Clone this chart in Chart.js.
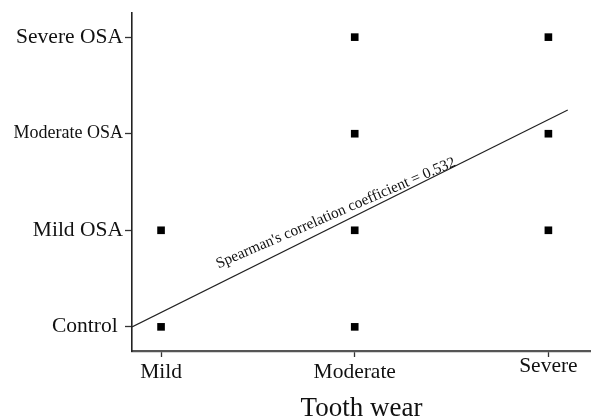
<!DOCTYPE html>
<html>
<head>
<meta charset="utf-8">
<script src="https://cdn.jsdelivr.net/npm/chart.js@4"></script>
<style>
  html, body { margin: 0; padding: 0; background: #fff; }
  #wrap { width: 591px; height: 418px; }
</style>
</head>
<body>
<div id="wrap"><canvas id="c" width="591" height="418"></canvas></div>
<script>
// ---- data ----
const xCategories = ['Mild', 'Moderate', 'Severe'];
const yCategories = ['Control', 'Mild OSA', 'Moderate OSA', 'Severe OSA'];
const pointX = ['Mild', 'Mild', 'Moderate', 'Moderate', 'Moderate', 'Moderate', 'Severe', 'Severe', 'Severe'];
const pointY = ['Control', 'Mild OSA', 'Control', 'Mild OSA', 'Moderate OSA', 'Severe OSA', 'Mild OSA', 'Moderate OSA', 'Severe OSA'];
const fitLineX = [-0.15, 2.10];
const fitLineY = [0, 2.245];
const annotationText = "Spearman's correlation coefficient = 0.532";
const annotationX = 0.296;
const annotationY = 0.605;
const xTitle = 'Tooth wear';

const FONT = '"Liberation Serif", "Times New Roman", serif';

const points = pointX.map((c, i) => ({ x: xCategories.indexOf(c), y: yCategories.indexOf(pointY[i]) }));
const linePts = fitLineX.map((v, i) => ({ x: v, y: fitLineY[i] }));

const annotationPlugin = {
  id: 'annot',
  afterDatasetsDraw(chart) {
    const { ctx, scales } = chart;
    const px = scales.x.getPixelForValue(annotationX);
    const py = scales.y.getPixelForValue(annotationY);
    ctx.save();
    ctx.translate(px, py);
    ctx.rotate(-23.4 * Math.PI / 180);
    ctx.font = '15.3px ' + FONT;
    ctx.fillStyle = '#111';
    ctx.textAlign = 'left';
    ctx.textBaseline = 'alphabetic';
    ctx.fillText(annotationText, 0, 0);
    ctx.restore();
  }
};

new Chart(document.getElementById('c'), {
  type: 'scatter',
  data: {
    datasets: [
      {
        data: points,
        pointStyle: 'rect',
        pointRadius: 5.4,
        pointBorderWidth: 0,
        backgroundColor: '#000',
        borderColor: '#000'
      },
      {
        type: 'line',
        data: linePts,
        borderColor: '#222',
        borderWidth: 1.2,
        pointRadius: 0,
        fill: false,
        showLine: true
      }
    ]
  },
  options: {
    responsive: false,
    animation: false,
    events: [],
    layout: { autoPadding: false, padding: { top: 13, right: 0, left: 0, bottom: 0 } },
    plugins: { legend: { display: false }, tooltip: { enabled: false } },
    scales: {
      x: {
        type: 'linear',
        min: -0.15,
        max: 2.22,
        afterFit(s) { s.height = 67; s.paddingLeft = 0; s.paddingRight = 0; },
        afterBuildTicks(s) { s.ticks = xCategories.map((_, i) => ({ value: i })); },
        grid: { drawOnChartArea: false, drawTicks: true, tickLength: 6, tickColor: '#333', tickWidth: 1.3 },
        border: { display: true, color: '#555', width: 2.2 },
        ticks: {
          autoSkip: false,
          maxRotation: 0,
          padding: 2,
          color: '#111',
          font: (ctx) => ({ family: FONT, size: 21.5, lineHeight: ctx.index === 2 ? 0.72 : 1.2 }),
          callback: (v) => xCategories[v]
        },
        title: {
          display: true,
          text: xTitle,
          color: '#111',
          padding: 0,
          font: { family: FONT, size: 27, lineHeight: 0.7 }
        }
      },
      y: {
        type: 'linear',
        min: -0.25,
        max: 3.25,
        afterFit(s) { s.width = 132; s.paddingTop = 0; s.paddingBottom = 0; },
        afterBuildTicks(s) { s.ticks = yCategories.map((_, i) => ({ value: i })); },
        grid: { drawOnChartArea: false, drawTicks: true, tickLength: 7, tickColor: '#333', tickWidth: 1.3 },
        border: { display: true, color: '#222', width: 1.6 },
        ticks: {
          autoSkip: false,
          padding: 2,
          color: '#111',
          font: (ctx) => ({ family: FONT, size: ctx.index === 2 ? 18 : 21.5 }),
          callback: (v) => yCategories[v] + (v === 0 ? ' ' : '')
        }
      }
    }
  },
  plugins: [annotationPlugin]
});
</script>
</body>
</html>
